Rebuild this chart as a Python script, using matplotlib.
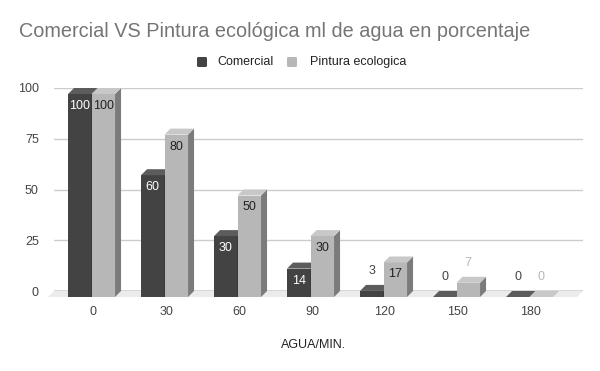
import matplotlib
matplotlib.use("Agg")
import matplotlib.pyplot as plt
from matplotlib.patches import Polygon, FancyBboxPatch

plt.rcParams['font.family'] = ['Liberation Sans', 'DejaVu Sans']

# data
categorias = ['0', '30', '60', '90', '120', '150', '180']
comercial = [100, 60, 30, 14, 3, 0, 0]
pintura = [100, 80, 50, 30, 17, 7, 0]
series = ['Comercial', 'Pintura ecologica']
yticks = [0, 25, 50, 75, 100]

W, H = 600, 371
fig = plt.figure(figsize=(W / 100, H / 100), dpi=100)
ax = fig.add_axes([54 / W, (H - 291) / H, (583 - 54) / W, (291 - 88) / H])

spacing = 73.0
ax.set_xlim((54 - 93) / spacing, (583 - 93) / spacing)
ax.set_ylim(0, 100)

pxx = spacing            # px per x unit
pxy = 203 / 100.0        # px per y unit
dx = 6 / pxx
dy = 6 / pxy
w = 23.5 / pxx

# colours: front, top, side, label inside, label outside
estilos = [
    dict(front='#434343', top='#5c5c5c', side='#2f2f2f', lin='#ffffff', lout='#444444'),
    dict(front='#b7b7b7', top='#c8c8c8', side='#7b7b7b', lin='#222222', lout='#b7b7b7'),
]
offsets = [-0.342, -0.02]

# grid lines
for t in yticks[1:]:
    ax.axhline(t, color='#cccccc', lw=1, zorder=1)

# floor
x0, x1 = ax.get_xlim()
ax.add_patch(Polygon([(x0, 0), (x1, 0), (x1 - dx, -dy), (x0 - dx, -dy)],
                     closed=True, facecolor='#ebebeb', edgecolor='none',
                     clip_on=False, zorder=1))
ax.axhline(0, color='#333333', lw=1, zorder=2)

for s, valores in enumerate([comercial, pintura]):
    st = estilos[s]
    for i, v in enumerate(valores):
        L = i + offsets[s]
        z = 3 + s
        if v > 0:
            ax.bar(L, v, width=w, bottom=-dy, align='edge', color=st['front'],
                   edgecolor='none', clip_on=False, zorder=z)
            ax.add_patch(Polygon([(L + w, -dy), (L + w, v - dy), (L + w + dx, v), (L + w + dx, 0)],
                                 closed=True, facecolor=st['side'], edgecolor='none',
                                 clip_on=False, zorder=z))
        ax.add_patch(Polygon([(L, v - dy), (L + w, v - dy), (L + w + dx, v), (L + dx, v)],
                             closed=True, facecolor=st['top'], edgecolor='none',
                             clip_on=False, zorder=z))
        cx = L + w / 2
        if v >= 10:
            ax.text(cx, v - dy - 12 / pxy, str(v), ha='center', va='center',
                    fontsize=9, color=st['lin'], zorder=10)
        else:
            ax.text(cx, v - dy + 20 / pxy, str(v), ha='center', va='center',
                    fontsize=9, color=st['lout'], zorder=10)

for sp in ax.spines.values():
    sp.set_visible(False)
ax.set_yticks(yticks)
ax.set_yticklabels([str(t) for t in yticks])
ax.tick_params(axis='y', length=0, pad=11, labelsize=9, labelcolor='#444444')
ax.set_xticks([])
for i, c in enumerate(categorias):
    ax.text(i, -21 / pxy, c, ha='center', va='center', fontsize=9, color='#444444')
ax.set_facecolor('none')

fig.text(314 / W, 1 - 345 / H, 'AGUA/MIN.', ha='center', va='center',
         fontsize=9, color='#222222')

fig.text(19 / W, 1 - 37 / H, 'Comercial VS Pintura ecológica ml de agua en porcentaje',
         ha='left', va='baseline', fontsize=14.3, color='#757575')

# legend
leg = [(197, 217), (287, 310)]
for s, (sx, tx) in enumerate(leg):
    fig.patches.append(FancyBboxPatch((sx / W, 1 - 67 / H), 10 / W, 10 / H,
                                      boxstyle='round,pad=0,rounding_size=0.003',
                                      transform=fig.transFigure, facecolor=estilos[s]['front'],
                                      edgecolor='none'))
    fig.text(tx / W, 1 - 62 / H, series[s], ha='left', va='center', fontsize=9, color='#222222')

fig.savefig('out.png', dpi=100)
